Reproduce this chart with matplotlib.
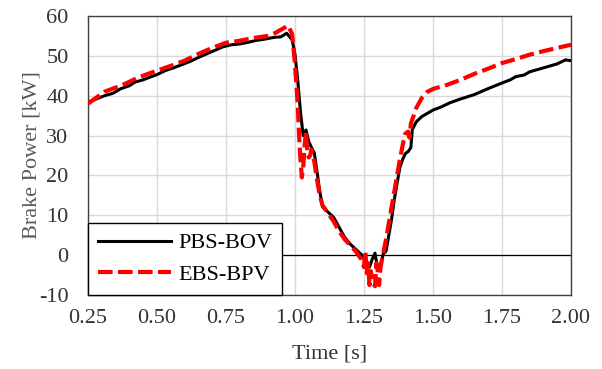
import matplotlib
matplotlib.use("Agg")
import matplotlib.pyplot as plt
from matplotlib.ticker import FormatStrFormatter

plt.rcParams["font.family"] = ["Liberation Serif", "DejaVu Serif"]
plt.rcParams["axes.unicode_minus"] = False

# PBS-BOV (black solid)
t_pbs = [0.25, 0.28, 0.31, 0.34, 0.37, 0.40, 0.42, 0.45, 0.48, 0.50,
         0.53, 0.56, 0.59, 0.62, 0.65, 0.68, 0.71, 0.74, 0.77, 0.80,
         0.83, 0.86, 0.89, 0.92, 0.95, 0.97, 0.99, 1.00, 1.01, 1.02,
         1.03, 1.04, 1.05, 1.06, 1.07, 1.08, 1.09, 1.10, 1.12, 1.14,
         1.16, 1.18, 1.20, 1.22, 1.24, 1.25, 1.26, 1.27, 1.28, 1.29,
         1.30, 1.31, 1.32, 1.33, 1.34, 1.35, 1.36, 1.37, 1.38, 1.39,
         1.40, 1.41, 1.42, 1.425, 1.44, 1.46, 1.48, 1.50, 1.53, 1.56,
         1.60, 1.65, 1.70, 1.75, 1.78, 1.80, 1.83, 1.85, 1.90, 1.95,
         1.98, 2.00]
p_pbs = [38.3, 39.2, 40.0, 40.6, 41.8, 42.5, 43.4, 44.0, 44.8, 45.3,
         46.3, 47.0, 47.8, 48.6, 49.6, 50.5, 51.4, 52.3, 52.8, 53.0,
         53.4, 53.9, 54.2, 54.6, 54.8, 55.7, 54.0, 50.5, 44.0, 36.0,
         30.0, 31.4, 28.5, 27.0, 25.7, 21.0, 16.0, 12.1, 10.8, 9.5,
         7.0, 4.5, 2.8, 1.5, 0.2, -1.0, -2.5, -3.0, -1.0, 0.5,
         -3.5, -2.5, 0.3, 1.0, 5.0, 9.0, 14.0, 18.0, 22.0, 24.0,
         25.5, 26.0, 27.0, 31.5, 33.5, 34.8, 35.6, 36.4, 37.2, 38.2,
         39.2, 40.3, 41.8, 43.2, 44.0, 44.8, 45.2, 46.0, 47.0, 48.0,
         49.0, 48.8]

# EBS-BPV (red dashed)
t_ebs = [0.25, 0.28, 0.31, 0.34, 0.37, 0.40, 0.43, 0.46, 0.50, 0.55,
         0.60, 0.65, 0.70, 0.75, 0.80, 0.85, 0.90, 0.93, 0.96, 0.975,
         0.99, 1.00, 1.01, 1.015, 1.02, 1.025, 1.03, 1.035, 1.04, 1.045,
         1.05, 1.055, 1.06, 1.07, 1.08, 1.09, 1.10, 1.12, 1.14, 1.16,
         1.18, 1.20, 1.22, 1.24, 1.25, 1.255, 1.26, 1.265, 1.27, 1.275,
         1.28, 1.29, 1.295, 1.30, 1.305, 1.31, 1.32, 1.33, 1.34, 1.35,
         1.36, 1.37, 1.38, 1.39, 1.40, 1.41, 1.415, 1.42, 1.44, 1.46,
         1.48, 1.50, 1.55, 1.60, 1.65, 1.70, 1.75, 1.80, 1.85, 1.90,
         1.95, 2.00]
p_ebs = [38.0, 39.5, 41.0, 41.8, 42.5, 43.5, 44.5, 45.3, 46.3, 47.5,
         48.8, 50.5, 52.0, 53.3, 53.8, 54.5, 55.0, 55.8, 57.0, 57.6,
         55.5, 48.0, 38.0, 30.0, 24.0, 19.5, 22.0, 27.5, 31.0, 26.0,
         24.5, 25.0, 26.5, 23.5, 19.0, 15.0, 12.5, 10.5, 8.5, 6.0,
         4.0, 2.5, 1.0, -1.0, -3.0, 1.0, -4.5, -2.0, -7.5, -4.0,
         -6.5, -7.8, -2.0, -4.0, -7.5, -3.0, 0.5, 4.0, 8.0, 12.0,
         16.0, 20.0, 24.0, 27.5, 30.5, 31.0, 29.5, 33.0, 37.0, 39.5,
         41.0, 41.7, 42.7, 44.0, 45.5, 46.8, 48.2, 49.2, 50.3, 51.2,
         52.0, 52.8]

x_ticks = [0.25, 0.50, 0.75, 1.00, 1.25, 1.50, 1.75, 2.00]
y_ticks = [-10, 0, 10, 20, 30, 40, 50, 60]

fig = plt.figure(figsize=(6.02, 3.69), dpi=100)
ax = fig.add_axes([0.146, 0.2005, 0.8025, 0.756])

ax.plot(t_pbs, p_pbs, color="black", lw=2.2, label="PBS-BOV", zorder=3)
ax.plot(t_ebs, p_ebs, color="#ff0000", lw=3.0, dashes=(3.5, 1.3),
        label="EBS-BPV", zorder=4)
ax.axhline(0, color="black", lw=0.9, zorder=2)

ax.set_xlim(0.25, 2.0)
ax.set_ylim(-10, 60)
ax.set_xticks(x_ticks)
ax.set_yticks(y_ticks)
ax.xaxis.set_major_formatter(FormatStrFormatter("%.2f"))
ax.grid(True, color="#d9d9d9", lw=1.0, zorder=0)
ax.set_axisbelow(True)
ax.tick_params(length=0, labelsize=16, colors="#333333")
ax.tick_params(axis="x", pad=10)
ax.tick_params(axis="y", pad=14)
for sp in ax.spines.values():
    sp.set_color("#404040")
    sp.set_linewidth(1.0)

ax.set_xlabel("Time [s]", fontsize=16, color="#333333", labelpad=12)
ax.set_ylabel("Brake Power [kW]", fontsize=16, color="#595959", labelpad=-2)

leg = ax.legend(loc="lower left", bbox_to_anchor=(0, 0), borderaxespad=0,
                fontsize=16, frameon=True, fancybox=False, framealpha=1,
                edgecolor="black", handlelength=3.3, handletextpad=0.3,
                borderpad=0.45, labelspacing=0.5)
leg.get_frame().set_linewidth(1.0)
leg.set_zorder(5)

fig.savefig("out.png", dpi=100)
